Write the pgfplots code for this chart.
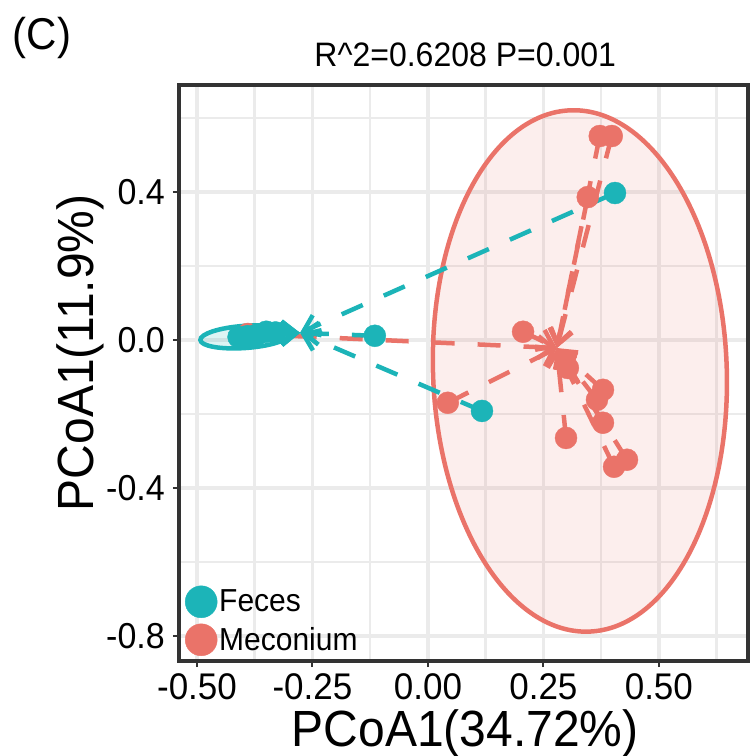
\documentclass[border=0pt]{standalone}
\usepackage{fontspec}
\setmainfont{Liberation Sans}
\usepackage{graphicx}
\usepackage{pgfplots}
\pgfplotsset{compat=1.18}
\usetikzlibrary{arrows.meta}
\definecolor{feces}{RGB}{28,180,184}
\definecolor{meco}{RGB}{234,115,105}
\definecolor{gridc}{RGB}{235,235,235}
\definecolor{frame}{RGB}{51,51,51}
\newcommand\st[1]{\scalebox{1}[1.06]{#1}}

\begin{document}
\begin{tikzpicture}
\useasboundingbox (0,0) rectangle (751pt,756pt);
\begin{axis}[
  at={(179pt,95pt)}, anchor=south west,
  scale only axis, width=569pt, height=576pt,
  xmin=-0.539, xmax=0.693, ymin=-0.868, ymax=0.689,
  xtick={-0.5,-0.25,0,0.25,0.5},
  ytick={-0.8,-0.4,0,0.4},
  minor xtick={-0.375,-0.125,0.125,0.375,0.625},
  minor ytick={-0.6,-0.2,0.2,0.6},
  grid=both,
  major grid style={gridc, line width=3.5pt},
  minor grid style={gridc, line width=2.5pt},
  xtick pos=bottom, ytick pos=left,
  tick align=outside, major tick length=6pt, minor tick length=0pt,
  tick style={frame, line width=2pt},
  axis line style={frame, line width=4pt},
  xticklabel={\st{\pgfmathprintnumber[fixed,fixed zerofill,precision=2,assume math mode=true]{\tick}}},
  yticklabel={\st{\pgfmathprintnumber[fixed,fixed zerofill,precision=1,assume math mode=true]{\tick}}},
  xticklabel style={font=\fontsize{35}{37}\selectfont, inner sep=0pt, anchor=north, yshift=-6pt},
  yticklabel style={font=\fontsize{34}{36}\selectfont, inner sep=0pt, anchor=east, xshift=-8pt},
  title={\st{R\textasciicircum 2=0.6208 P=0.001}},
  title style={font=\fontsize{32}{34}\selectfont, at={(axis description cs:0.503,1.042)}, anchor=center, inner sep=0pt},
  xlabel={\st{PCoA1(34.72\%)}},
  xlabel style={font=\fontsize{48}{50}\selectfont, at={(axis description cs:0.503,-0.126)}, anchor=center, inner sep=0pt},
  ylabel={\st{PCoA1(11.9\%)}},
  ylabel style={font=\fontsize{48}{50}\selectfont, at={(axis description cs:-0.173,0.535)}, anchor=center, inner sep=0pt},
  legend style={at={(axis description cs:0,0)}, anchor=south west, xshift=6pt, yshift=5pt,
    draw=none, fill=none, inner sep=0pt, font=\fontsize{30}{32}\selectfont, row sep=6pt,
    /tikz/every even column/.append style={column sep=4pt}},
  legend cell align=left,
  seg/.style={line width=4.5pt, dash pattern=on 23pt off 23pt, mark=none,
    -{Straight Barb[length=15pt, width=22pt]}},
]
\addlegendimage{only marks, mark=*, mark size=16pt, feces, mark options={draw=none}}
\addlegendimage{only marks, mark=*, mark size=16pt, meco, mark options={draw=none}}
\legend{\st{Feces}, \st{Meconium}}

% ellipses
\draw[meco, line width=4.5pt, fill=meco, fill opacity=0.12] (axis cs:0.329,-0.084) circle[x radius=0.318, y radius=0.705, rotate=2];
\draw[feces, line width=4.5pt, fill=feces, fill opacity=0.15] (axis cs:-0.396,0.008) circle[x radius=0.097, y radius=0.030, rotate=4];

% points
\addplot[only marks, mark=*, mark size=11pt, meco, mark options={draw=none}] coordinates {
(0.372,0.551) (0.398,0.551) (0.346,0.386) (0.206,0.022) (0.303,-0.076)
(0.379,-0.135) (0.366,-0.162) (0.379,-0.224) (0.299,-0.265)
(0.403,-0.343) (0.431,-0.324) (0.043,-0.170) (-0.390,0.016)
};
\addplot[only marks, mark=*, mark size=11pt, feces, mark options={draw=none}] coordinates {
(-0.410,0.008) (-0.390,0.010) (-0.370,0.014) (-0.350,0.022) (-0.330,0.020)
(-0.115,0.011) (0.405,0.397) (0.117,-0.192)
};

% spider segments, Meconium centroid (0.279,-0.022)
\addplot[seg, meco] coordinates {(0.372,0.551) (0.279,-0.022)};
\addplot[seg, meco] coordinates {(0.398,0.551) (0.279,-0.022)};
\addplot[seg, meco] coordinates {(0.346,0.386) (0.279,-0.022)};
\addplot[seg, meco] coordinates {(0.206,0.022) (0.279,-0.022)};
\addplot[seg, meco] coordinates {(0.303,-0.076) (0.279,-0.022)};
\addplot[seg, meco] coordinates {(0.379,-0.135) (0.279,-0.022)};
\addplot[seg, meco] coordinates {(0.366,-0.162) (0.279,-0.022)};
\addplot[seg, meco] coordinates {(0.379,-0.224) (0.279,-0.022)};
\addplot[seg, meco] coordinates {(0.299,-0.265) (0.279,-0.022)};
\addplot[seg, meco] coordinates {(0.403,-0.343) (0.279,-0.022)};
\addplot[seg, meco] coordinates {(0.431,-0.324) (0.279,-0.022)};
\addplot[seg, meco] coordinates {(0.043,-0.170) (0.279,-0.022)};
\addplot[seg, meco] coordinates {(-0.390,0.016) (0.279,-0.022)};

% spider segments, Feces centroid (-0.277,0.019)
\addplot[seg, feces] coordinates {(-0.410,0.008) (-0.277,0.019)};
\addplot[seg, feces] coordinates {(-0.390,0.010) (-0.277,0.019)};
\addplot[seg, feces] coordinates {(-0.370,0.014) (-0.277,0.019)};
\addplot[seg, feces] coordinates {(-0.350,0.022) (-0.277,0.019)};
\addplot[seg, feces] coordinates {(-0.330,0.020) (-0.277,0.019)};
\addplot[seg, feces] coordinates {(-0.115,0.011) (-0.277,0.019)};
\addplot[seg, feces] coordinates {(0.405,0.397) (-0.277,0.019)};
\addplot[seg, feces] coordinates {(0.117,-0.192) (-0.277,0.019)};
\end{axis}
\node[font=\fontsize{42}{44}\selectfont, anchor=center, inner sep=0pt] at (42pt,718pt) {\st{(C)}};
\end{tikzpicture}
\end{document}
